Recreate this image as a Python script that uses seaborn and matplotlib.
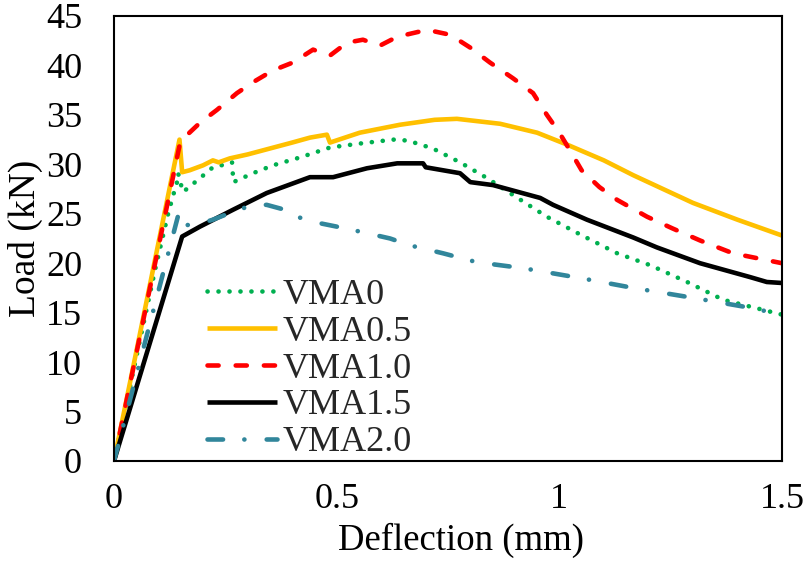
import matplotlib
matplotlib.use("Agg")
import matplotlib.pyplot as plt
import seaborn as sns
import pandas as pd

# Load-deflection curves for the five VMA dosages
vma0_x = [0, 0.092, 0.121, 0.133, 0.141, 0.144, 0.150, 0.155, 0.193, 0.222, 0.26, 0.265, 0.268,
          0.312, 0.357, 0.418, 0.485, 0.552, 0.627, 0.66, 0.716, 0.777, 0.838, 0.889, 0.972,
          1.047, 1.13, 1.204, 1.287, 1.368, 1.5]
vma0_y = [0, 19.3, 24.9, 26.9, 28.1, 29.1, 28.0, 27.2, 28.6, 29.7, 30.1, 30.2, 28.2,
          29.1, 29.9, 30.7, 31.7, 32.1, 32.5, 32.4, 31.6, 30.2, 28.6, 27.1, 24.7,
          22.9, 21.0, 19.8, 18.1, 16.3, 14.8]

vma05_x = [0, 0.147, 0.153, 0.17, 0.2, 0.222, 0.235, 0.26, 0.30, 0.35, 0.40, 0.44, 0.478, 0.485,
           0.552, 0.642, 0.72, 0.77, 0.867, 0.95, 1.017, 1.1, 1.166, 1.30, 1.40, 1.5]
vma05_y = [0, 32.5, 29.2, 29.4, 29.9, 30.4, 30.2, 30.6, 31.0, 31.6, 32.2, 32.7, 33.0, 32.2,
           33.2, 34.0, 34.5, 34.6, 34.1, 33.2, 32.0, 30.4, 28.9, 26.1, 24.4, 22.8]

vma10_x = [0, 0.148, 0.16, 0.193, 0.231, 0.276, 0.312, 0.357, 0.402, 0.447, 0.485, 0.523,
           0.559, 0.597, 0.636, 0.703, 0.755, 0.80, 0.844, 0.896, 0.941, 0.972, 1.0, 1.024,
           1.05, 1.09, 1.13, 1.197, 1.255, 1.316, 1.39, 1.5]
vma10_y = [0, 32.1, 32.8, 34.2, 35.5, 37.2, 38.3, 39.5, 40.3, 41.6, 41.0, 42.3,
           42.6, 42.0, 42.9, 43.6, 43.1, 41.8, 40.3, 38.7, 37.2, 35.0, 33.2, 31.4,
           29.4, 27.7, 26.4, 24.7, 23.5, 22.3, 21.0, 20.0]

vma15_x = [0, 0.153, 0.193, 0.267, 0.343, 0.44, 0.492, 0.568, 0.636, 0.694, 0.70, 0.777,
           0.8, 0.851, 0.957, 0.986, 1.062, 1.166, 1.219, 1.316, 1.428, 1.466, 1.5]
vma15_y = [0, 22.7, 23.7, 25.4, 27.1, 28.7, 28.7, 29.6, 30.1, 30.1, 29.7, 29.1,
           28.2, 27.9, 26.6, 25.9, 24.4, 22.6, 21.6, 20.0, 18.6, 18.1, 18.0]

vma20_x = [0, 0.145, 0.153, 0.193, 0.222, 0.267, 0.312, 0.343, 0.384, 0.418, 0.456, 0.50,
           0.552, 0.62, 0.665, 0.739, 0.815, 0.918, 1.047, 1.166, 1.30, 1.428, 1.5]
vma20_y = [0, 25.0, 23.8, 24.0, 24.4, 25.2, 25.9, 25.9, 25.4, 24.6, 24.1, 23.7,
           23.2, 22.5, 21.8, 21.0, 20.1, 19.5, 18.5, 17.5, 16.5, 15.5, 14.8]

labels = ["VMA0", "VMA0.5", "VMA1.0", "VMA1.5", "VMA2.0"]
xticks = [0, 0.5, 1, 1.5]
xtick_labels = ["0", "0.5", "1", "1.5"]
yticks = [0, 5, 10, 15, 20, 25, 30, 35, 40, 45]

series = [(vma0_x, vma0_y), (vma05_x, vma05_y), (vma10_x, vma10_y),
          (vma15_x, vma15_y), (vma20_x, vma20_y)]
colors = ["#00B050", "#FFC000", "#FF0000", "#000000", "#31869B"]
# dash patterns in points (round caps)
dashes = [(0.1, 7.8), None, (8.0, 12.3), None, (11.2, 15.3, 0.1, 16.0)]

sns.set_theme(style="white")
plt.rcParams["font.family"] = ["Liberation Serif", "DejaVu Serif"]
plt.rcParams["lines.scale_dashes"] = False

fig = plt.figure(figsize=(8.07, 5.63), dpi=100)
ax = fig.add_axes([0.1413, 0.1812, 0.8277, 0.7904])

for (xs, ys), lab, col, dsh in zip(series, labels, colors, dashes):
    df = pd.DataFrame({"Deflection": xs, "Load": ys})
    sns.lineplot(data=df, x="Deflection", y="Load", ax=ax, color=col, lw=3.3,
                 sort=False, estimator=None, label=lab)
    line = ax.lines[-1]
    if dsh is not None:
        line.set_dashes(dsh)
    line.set_dash_capstyle("round")
    line.set_solid_capstyle("butt")

ax.set_xlim(0, 1.5)
ax.set_ylim(0, 45)
ax.set_xticks(xticks)
ax.set_xticklabels(xtick_labels)
ax.set_yticks(yticks)
ax.tick_params(axis="both", direction="in", length=12, width=1.5, labelsize=26,
               colors="black", pad=23)
ax.tick_params(axis="x", pad=16)
for sp in ax.spines.values():
    sp.set_visible(True)
    sp.set_linewidth(1.5)
    sp.set_color("black")

ax.set_xlabel("Deflection (mm)", fontsize=26.5, color="black")
ax.xaxis.set_label_coords(0.52, -0.139)
ax.set_ylabel("Load (kN)", fontsize=27, color="black")
ax.yaxis.set_label_coords(-0.107, 0.5)

leg = ax.legend(loc="upper left", bbox_to_anchor=(0.139, 0.41), frameon=False,
                fontsize=26, handlelength=1.95, handletextpad=0.15,
                labelspacing=0.1, borderpad=0, borderaxespad=0)

fig.savefig("out.png", dpi=100)
